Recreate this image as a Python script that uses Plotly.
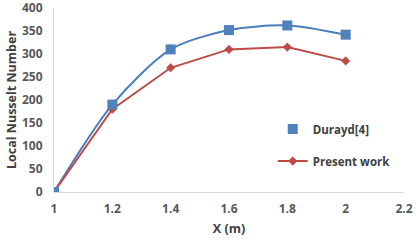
import plotly.graph_objects as go

x = [1, 1.2, 1.4, 1.6, 1.8, 2]
durayd = [0, 190, 310, 352, 362, 342]
present = [0, 180, 270, 310, 315, 285]
x_ticks = [1, 1.2, 1.4, 1.6, 1.8, 2, 2.2]
x_labels = ["1", "1.2", "1.4", "1.6", "1.8", "2", "2.2"]
y_ticks = [0, 50, 100, 150, 200, 250, 300, 350, 400]

fig = go.Figure()
fig.add_trace(go.Scatter(x=x, y=durayd, mode="lines", line=dict(color="#4A7EBB", width=2, shape="spline", smoothing=0.8),
                         showlegend=False, hoverinfo="skip"))
fig.add_trace(go.Scatter(x=x, y=present, mode="lines+markers", name="Present work", legendrank=2, legendgroup="b",
                         line=dict(color="#BE4B48", width=2),
                         marker=dict(symbol="diamond", size=7, color="#BE4B48")))
fig.add_trace(go.Scatter(x=x, y=durayd, mode="markers", name="Durayd[4]", legendrank=1, legendgroup="a",
                         marker=dict(symbol="square", size=10, color="#4F81BD")))

tf = dict(family="Open Sans, DejaVu Sans, sans-serif", size=12, color="#595959", weight="bold")
fig.update_layout(
    width=420, height=240,
    margin=dict(l=54, r=16, t=8, b=48, autoexpand=False),
    paper_bgcolor="white", plot_bgcolor="white",
    font=dict(family="Open Sans, DejaVu Sans, sans-serif", size=11, color="#595959"),
    legend=dict(x=0.625, y=0.255, xanchor="left", yanchor="middle", traceorder="grouped",
                bgcolor="rgba(0,0,0,0)", font=dict(size=11.5, color="#404040", weight="bold"),
                itemwidth=30, tracegroupgap=13),
    xaxis=dict(range=[1, 2.2], tickvals=x_ticks, ticktext=x_labels, automargin=False,
               showgrid=False, zeroline=False, showline=True, linecolor="#D9D9D9", linewidth=1,
               ticks="", tickfont=tf, ticklabeloverflow="allow", ticklabelstandoff=6,
               title=dict(text="X (m)", font=dict(size=12.5, color="#404040", weight="bold"), standoff=7)),
    yaxis=dict(range=[0, 400], tickvals=y_ticks, showgrid=False, zeroline=False, automargin=False,
               showline=True, linecolor="#D9D9D9", linewidth=1, ticks="",
               tickfont=tf, ticklabeloverflow="allow", ticklabelstandoff=8,
               title=dict(text="Local Nusselt Number", font=dict(size=12.5, color="#404040", weight="bold"), standoff=2)),
)
fig.write_html("out.html", config={"displayModeBar": False}, post_script="document.body.style.margin='0';")
